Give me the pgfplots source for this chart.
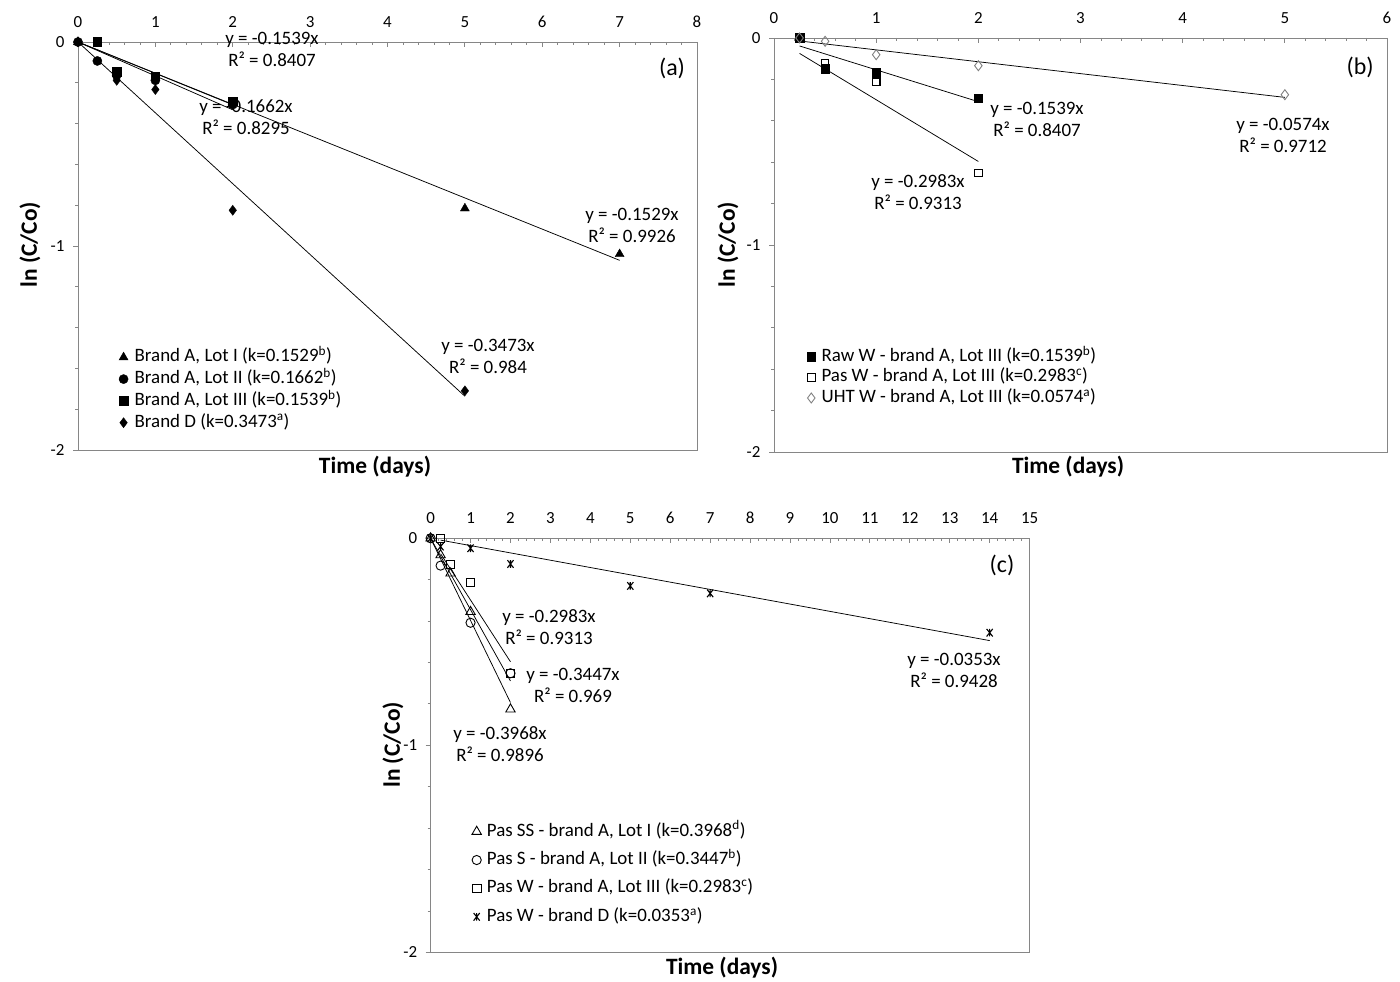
\documentclass[border=0pt]{standalone}
\usepackage{fontspec}
\setmainfont{Carlito}
\usepackage{pgfplots}
\pgfplotsset{compat=1.18}
\definecolor{axgray}{RGB}{134,134,134}
\definecolor{mkgray}{RGB}{128,128,128}
\pgfdeclareplotmark{xstar}{%
  \pgfpathmoveto{\pgfqpoint{-0.8\pgfplotmarksize}{-\pgfplotmarksize}}%
  \pgfpathlineto{\pgfqpoint{0.8\pgfplotmarksize}{\pgfplotmarksize}}%
  \pgfpathmoveto{\pgfqpoint{-0.8\pgfplotmarksize}{\pgfplotmarksize}}%
  \pgfpathlineto{\pgfqpoint{0.8\pgfplotmarksize}{-\pgfplotmarksize}}%
  \pgfpathmoveto{\pgfqpoint{0pt}{-\pgfplotmarksize}}%
  \pgfpathlineto{\pgfqpoint{0pt}{\pgfplotmarksize}}%
  \pgfusepathqstroke}
\pgfplotsset{
  panel/.style={
    scale only axis, clip=false,
    axis line style={axgray, line width=0.8bp},
    ymin=-2, ymax=0, ytick={-2,-1,0}, yticklabels={-2,-1,0},
    minor x tick num=4, minor y tick num=4,
    xtick pos=right, xticklabel pos=right,
    ytick pos=left, yticklabel pos=left,
    tick align=inside,
    major tick length=5bp, minor tick length=3bp,
    tick style={axgray, line width=0.8bp},
    every major y tick/.style={xshift=-5bp},
    every minor y tick/.style={xshift=-3bp},
    tick label style={font=\fontsize{17}{19}\selectfont},
    xticklabel style={yshift=11bp},
    yticklabel style={xshift=-10bp},
    legend cell align=left,
    legend style={anchor=north west, draw=none, fill=none, inner sep=0pt, outer sep=0pt,
      font=\fontsize{19}{22}\selectfont,
      nodes={inner sep=0pt, text height=13bp, text depth=4bp}},
    legend image code/.code={\draw[##1] plot coordinates {(0bp,0bp)};},
  },
  trend/.style={black, line width=0.75bp, forget plot, mark=none},
}
\tikzset{
  ann/.style={align=center, font=\fontsize{19}{22}\selectfont, inner sep=0pt},
  ttl/.style={font=\fontsize{23.5}{26}\selectfont\bfseries, inner sep=0pt},
}
\begin{document}
\begin{tikzpicture}[x=1bp,y=1bp]
\useasboundingbox (0,0) rectangle (1400,981);

% ---------------- panel (a)
\begin{axis}[panel, at={(78bp,531bp)}, anchor=south west, width=619bp, height=408bp,
  xmin=0, xmax=8, xtick={0,...,8}, xticklabels={0,1,2,3,4,5,6,7,8},
  legend style={at={(0.0662,0.248)}, row sep=4.8bp, column sep=6.5bp}]
\addplot[trend] coordinates {(0,0) (7,-1.0703)};
\addplot[trend] coordinates {(0,0) (2,-0.3324)};
\addplot[trend] coordinates {(0,0) (2,-0.3078)};
\addplot[trend] coordinates {(0,0) (5,-1.7365)};
\addplot[only marks, mark=triangle*, mark size=5.2bp, black] coordinates {(0,0) (5,-0.816) (7,-1.040)};
\addlegendentry{Brand A, Lot I (k=0.1529\textsuperscript{b})}
\addplot[only marks, mark=*, mark size=4.6bp, black] coordinates {(0,0) (0.25,-0.093) (0.5,-0.163) (1,-0.188) (2,-0.307)};
\addlegendentry{Brand A, Lot II (k=0.1662\textsuperscript{b})}
\addplot[only marks, mark=square*, mark size=4.3bp, black] coordinates {(0.25,0) (0.5,-0.147) (1,-0.168) (2,-0.291)};
\addlegendentry{Brand A, Lot III (k=0.1539\textsuperscript{b})}
\addplot[only marks, mark=diamond*, mark size=5bp, black] coordinates {(0,0) (0.5,-0.188) (1,-0.233) (2,-0.825) (5,-1.71)};
\addlegendentry{Brand D (k=0.3473\textsuperscript{a})}
\end{axis}

% ---------------- panel (b)
\begin{axis}[panel, at={(774bp,529bp)}, anchor=south west, width=613bp, height=414bp,
  xmin=0, xmax=6, xtick={0,...,6}, xticklabels={0,1,2,3,4,5,6},
  legend style={at={(0.0538,0.25)}, row sep=3.5bp, column sep=6bp}]
\addplot[trend] coordinates {(0.25,-0.0385) (2,-0.3078)};
\addplot[trend] coordinates {(0.25,-0.0746) (2,-0.5966)};
\addplot[trend] coordinates {(0.25,-0.0144) (5,-0.287)};
\addplot[only marks, mark=square*, mark size=4.3bp, black] coordinates {(0.25,0) (0.5,-0.148) (1,-0.169) (2,-0.290)};
\addlegendentry{Raw W - brand A, Lot III (k=0.1539\textsuperscript{b})}
\addplot[only marks, mark=square, mark size=3.8bp, black, mark options={fill=white, line width=1.1bp}] coordinates {(0.25,0) (0.5,-0.124) (1,-0.213) (2,-0.652)};
\addlegendentry{Pas W - brand A, Lot III (k=0.2983\textsuperscript{c})}
\addplot[only marks, mark=diamond, mark size=5bp, mkgray, mark options={fill=white, line width=0.9bp}] coordinates {(0.25,0) (0.5,-0.016) (1,-0.081) (2,-0.134) (5,-0.274)};
\addlegendentry{UHT W - brand A, Lot III (k=0.0574\textsuperscript{a})}
\end{axis}

% ---------------- panel (c)
\begin{axis}[panel, at={(430.6bp,28.7bp)}, anchor=south west, width=599bp, height=414bp,
  xmin=0, xmax=15, xtick={0,...,15}, xticklabels={0,1,2,3,4,5,6,7,8,9,10,11,12,13,14,15},
  legend style={at={(0.0691,0.312)}, row sep=11.4bp, column sep=5.5bp}]
\addplot[trend] coordinates {(0,0) (2,-0.7936)};
\addplot[trend] coordinates {(0,0) (2,-0.6894)};
\addplot[trend] coordinates {(0.25,-0.0746) (2,-0.5966)};
\addplot[trend] coordinates {(0.25,-0.0088) (14,-0.4942)};
\addplot[only marks, mark=triangle, mark size=5.4bp, black, mark options={fill=white, line width=0.9bp}] coordinates {(0,0) (0.25,-0.081) (0.5,-0.169) (1,-0.355) (2,-0.826)};
\addlegendentry{Pas SS - brand A, Lot I (k=0.3968\textsuperscript{d})}
\addplot[only marks, mark=o, mark size=4.6bp, black, mark options={line width=0.9bp}] coordinates {(0,0) (0.25,-0.132) (1,-0.408) (2,-0.652)};
\addlegendentry{Pas S - brand A, Lot II (k=0.3447\textsuperscript{b})}
\addplot[only marks, mark=square, mark size=4.3bp, black, mark options={fill=white, line width=0.9bp}] coordinates {(0.25,0) (0.5,-0.126) (1,-0.213) (2,-0.652)};
\addlegendentry{Pas W - brand A, Lot III (k=0.2983\textsuperscript{c})}
\addplot[only marks, mark=xstar, mark size=3.8bp, black, mark options={line width=1.1bp}] coordinates {(0,0) (0.25,-0.040) (1,-0.048) (2,-0.124) (5,-0.230) (7,-0.266) (14,-0.456)};
\addlegendentry{Pas W - brand D (k=0.0353\textsuperscript{a})}
\end{axis}

% annotations (a)
\node[ann] at (272bp,932bp) {y = -0.1539x\\R² = 0.8407};
\node[ann] at (246bp,864bp) {y = -0.1662x\\R² = 0.8295};
\node[ann] at (632bp,756bp) {y = -0.1529x\\R² = 0.9926};
\node[ann] at (488bp,625bp) {y = -0.3473x\\R² = 0.984};
\node[font=\fontsize{24}{26}\selectfont, inner sep=0pt] at (672bp,913bp) {(a)};
% annotations (b)
\node[ann] at (1037bp,862bp) {y = -0.1539x\\R² = 0.8407};
\node[ann] at (918bp,789bp) {y = -0.2983x\\R² = 0.9313};
\node[ann] at (1283bp,846bp) {y = -0.0574x\\R² = 0.9712};
\node[font=\fontsize{24}{26}\selectfont, inner sep=0pt] at (1360bp,914bp) {(b)};
% annotations (c)
\node[ann] at (549bp,354bp) {y = -0.2983x\\R² = 0.9313};
\node[ann] at (573bp,296bp) {y = -0.3447x\\R² = 0.969};
\node[ann] at (500bp,237bp) {y = -0.3968x\\R² = 0.9896};
\node[ann] at (954bp,311bp) {y = -0.0353x\\R² = 0.9428};
\node[font=\fontsize{24}{26}\selectfont, inner sep=0pt] at (1002bp,416bp) {(c)};

% axis titles
\node[ttl] at (375bp,514bp) {Time (days)};
\node[ttl] at (1068bp,514bp) {Time (days)};
\node[ttl] at (722bp,13bp) {Time (days)};
\node[ttl, rotate=90] at (30bp,736bp) {ln (C/Co)};
\node[ttl, rotate=90] at (728bp,736bp) {ln (C/Co)};
\node[ttl, rotate=90] at (393bp,236bp) {ln (C/Co)};
\end{tikzpicture}
\end{document}
